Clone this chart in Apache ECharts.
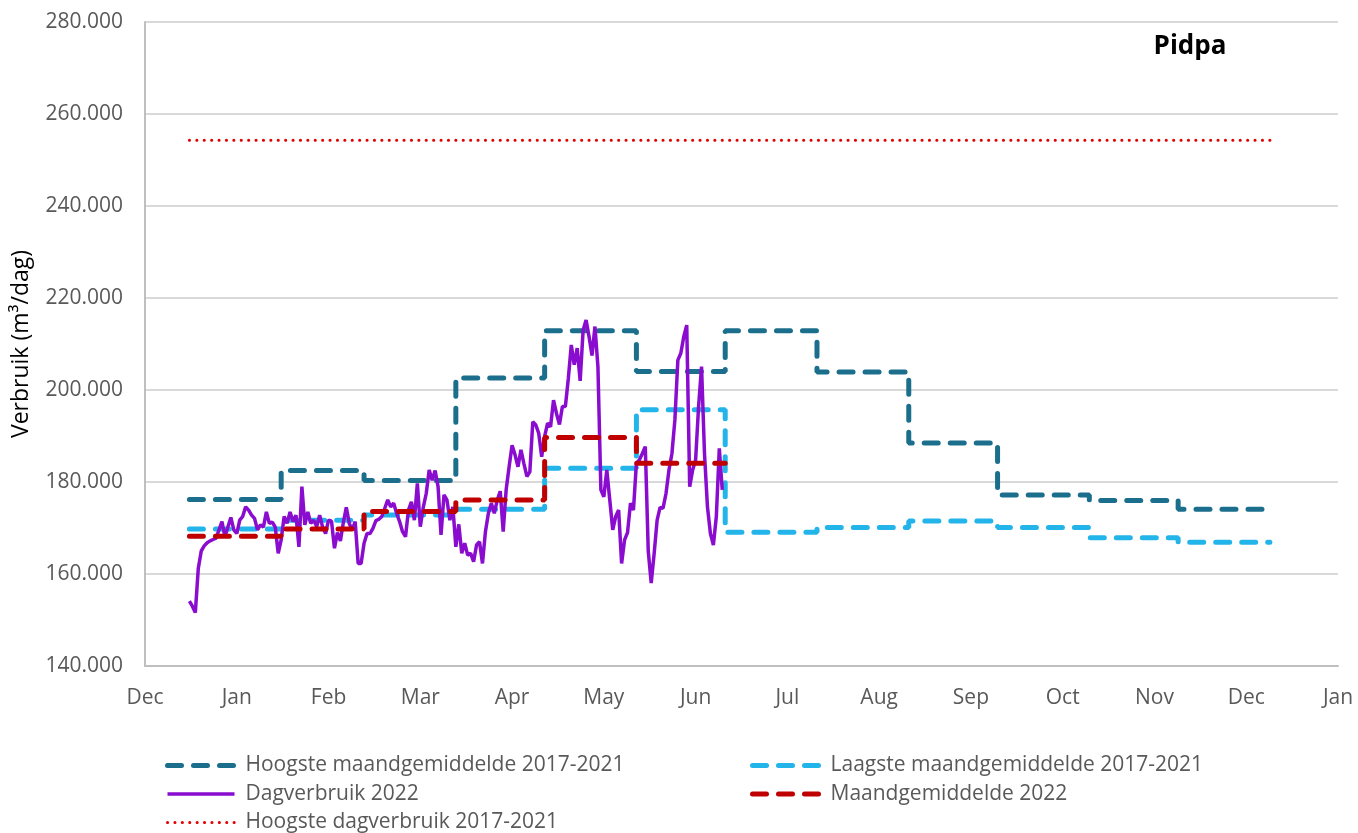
<!DOCTYPE html>
<html><head><meta charset="utf-8">
<script src="https://cdn.jsdelivr.net/npm/echarts@6/dist/echarts.min.js"></script>
<style>html,body{margin:0;padding:0;background:#fff}#c{width:1358px;height:833px}</style>
</head><body><div id="c"></div>
<script>
// ---- data ----
const axisStart = '2021-12-17';          // first x tick (axis ticks every 31 days)
const tickDays = 31;
const xTickLabels = ['Dec','Jan','Feb','Mar','Apr','May','Jun','Jul','Aug','Sep','Oct','Nov','Dec','Jan'];
const yMin = 140000, yMax = 280000, yStep = 20000;

const monthStarts = ['2022-01-01','2022-02-01','2022-03-01','2022-04-01','2022-05-01','2022-06-01',
                     '2022-07-01','2022-08-01','2022-09-01','2022-10-01','2022-11-01','2022-12-01'];
const yearEnd = '2023-01-01';
const hoogsteMaand = [176200,182500,180300,202600,212900,204000,212900,203900,188500,177200,176000,174100];
const laagsteMaand = [169800,171700,172800,174100,183000,195700,169100,170100,171500,170100,167900,166900];
const maand2022 = [168200,169800,173600,176100,189700,184100];
const maand2022End = '2022-07-01';
const hoogsteDag = 254300;

const dagStart = '2022-01-01';
const dagverbruik2022 = [
 154100,153000,151600,161200,165000,166100,166800,167200,167500,167800,
 169600,171400,168100,170200,172300,169600,168800,171700,172500,174600,
 173900,172800,172100,169600,170700,170200,173500,171000,171300,170200,
 164500,167400,172500,171000,173500,171400,172800,165900,179000,170700,
 173500,171000,171700,170300,172800,170200,168800,171700,171500,165600,
 169000,167200,171200,174500,171000,169600,171400,162300,162300,166700,
 168800,168800,169900,171600,171900,172500,174300,176100,174600,175400,
 173200,171400,169200,168100,173900,175700,171700,179700,170300,174500,
 177500,182600,180400,182500,179000,168500,177200,176100,171700,174600,
 165900,170800,164500,166700,164100,164500,162700,166300,167000,162300,
 169200,173200,175400,173200,176100,178000,169200,178300,183300,188000,
 185900,183300,187000,184000,181200,182200,193100,192400,190600,185500,
 189900,192800,192000,197800,194900,192500,196400,196400,202500,209800,
 205500,209100,202000,213000,215200,211600,207500,213800,205100,178300,
 176800,182600,176100,169600,172500,173900,162300,167400,169000,175400,
 173900,184100,184800,186200,187700,165000,158000,164500,171700,174500,
 174300,177500,182600,186200,193500,206500,208000,211600,214100,179000,
 182600,184800,196400,205100,186200,174600,168800,166300,172500,187300,178300];

// ---- helpers ----
const DAY = 864e5;
const dayOf = s => (Date.parse(s + 'T00:00:00Z') - Date.parse(axisStart + 'T00:00:00Z')) / DAY;
function stepData(vals, endDate) {
  const pts = vals.map((v, i) => [dayOf(monthStarts[i]), v]);
  pts.push([dayOf(endDate), vals[vals.length - 1]]);
  return pts;
}
const dagData = dagverbruik2022.map((v, i) => [dayOf(dagStart) + i, v]);
const fmtY = v => String(v).replace(/\B(?=(\d{3})+(?!\d))/g, '.');

const FONT = 'Open Sans';
const dash = [14, 12];
const names = ['Hoogste maandgemiddelde 2017-2021','Laagste maandgemiddelde 2017-2021',
               'Dagverbruik 2022','Maandgemiddelde 2022','Hoogste dagverbruik 2017-2021'];
const C = {hoog: '#1b6f8c', laag: '#23b4ea', dag: '#8a0ccf', maand: '#c00000', dot: '#e00000'};
const styles = [
  {color: C.hoog, width: 5, type: dash, cap: 'round'},
  {color: C.laag, width: 5, type: dash, cap: 'round'},
  {color: C.dag, width: 3.5, type: 'solid', cap: 'butt'},
  {color: C.maand, width: 5, type: dash, cap: 'round'},
  {color: C.dot, width: 3, type: [0.1, 7.3], cap: 'round'}
];
const legendItem = i => ({name: names[i], lineStyle: styles[i]});

const chart = echarts.init(document.getElementById('c'), null, {renderer: 'canvas'});
const legendCommon = {
  orient: 'vertical', top: 755, padding: 0, itemWidth: 67, itemHeight: 14, itemGap: 7.5,
  itemStyle: {opacity: 0},
  textStyle: {fontFamily: FONT, fontSize: 21, color: '#595959', lineHeight: 20, padding: [0,0,0,6]},
  selectedMode: false
};
chart.setOption({
  animation: false,
  backgroundColor: '#fff',
  title: {text: 'Pidpa', left: 1185, top: 29, textAlign: 'center',
          textStyle: {fontFamily: FONT, fontSize: 26, fontWeight: 'bold', color: '#000'}},
  grid: {left: 145, right: 20, top: 22, bottom: 167, containLabel: false},
  legend: [
    Object.assign({left: 165, data: [legendItem(0), legendItem(2), legendItem(4)]}, legendCommon),
    Object.assign({left: 750, data: [legendItem(1), legendItem(3)]}, legendCommon)
  ],
  xAxis: {
    type: 'value', min: 0, max: tickDays * (xTickLabels.length - 1), interval: tickDays,
    axisLine: {show: true, lineStyle: {color: '#bfbfbf', width: 2}},
    axisTick: {show: false},
    splitLine: {show: false},
    axisLabel: {margin: 22, fontFamily: FONT, fontSize: 21, color: '#595959',
                formatter: v => xTickLabels[Math.round(v / tickDays)] || ''}
  },
  yAxis: {
    type: 'value', min: yMin, max: yMax, interval: yStep,
    name: 'Verbruik (m³/dag)', nameLocation: 'middle', nameGap: 112,
    nameTextStyle: {fontFamily: FONT, fontSize: 23, color: '#000'},
    axisLine: {show: true, lineStyle: {color: '#bfbfbf', width: 2}},
    axisTick: {show: false},
    splitLine: {show: true, lineStyle: {color: '#d9d9d9', width: 2}},
    axisLabel: {margin: 22, fontFamily: FONT, fontSize: 21, color: '#595959', formatter: fmtY}
  },
  series: [
    {name: names[0], type: 'line', step: 'end', symbol: 'none', data: stepData(hoogsteMaand, yearEnd),
     lineStyle: styles[0], itemStyle: {color: C.hoog}},
    {name: names[1], type: 'line', step: 'end', symbol: 'none', data: stepData(laagsteMaand, yearEnd),
     lineStyle: styles[1], itemStyle: {color: C.laag}},
    {name: names[2], type: 'line', symbol: 'none', data: dagData,
     lineStyle: styles[2], itemStyle: {color: C.dag}},
    {name: names[3], type: 'line', step: 'end', symbol: 'none', data: stepData(maand2022, maand2022End),
     lineStyle: styles[3], itemStyle: {color: C.maand}},
    {name: names[4], type: 'line', symbol: 'none',
     data: [[dayOf('2022-01-01'), hoogsteDag], [dayOf(yearEnd), hoogsteDag]],
     lineStyle: styles[4], itemStyle: {color: C.dot}}
  ]
});
</script></body></html>
